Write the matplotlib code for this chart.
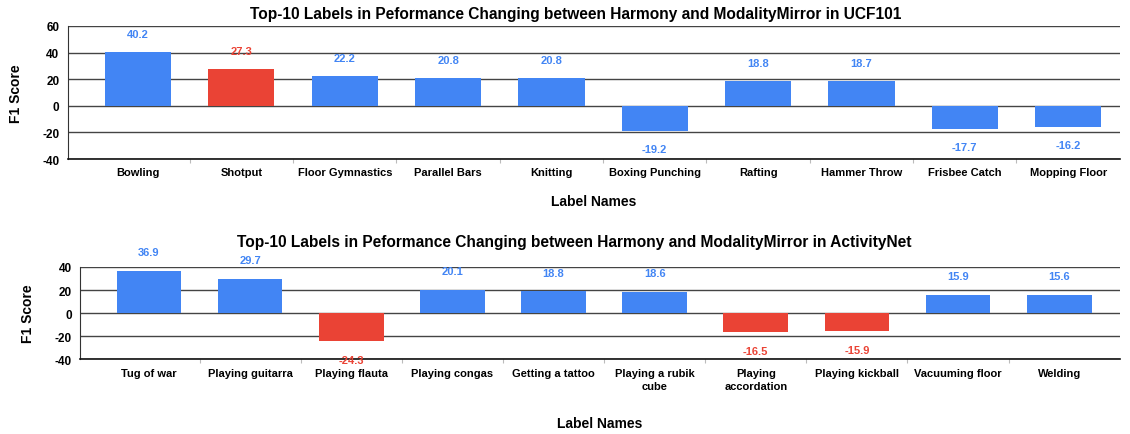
import matplotlib
matplotlib.use("Agg")
import matplotlib.pyplot as plt

ucf_labels = ["Bowling", "Shotput", "Floor Gymnastics", "Parallel Bars", "Knitting",
              "Boxing Punching", "Rafting", "Hammer Throw", "Frisbee Catch", "Mopping Floor"]
ucf_values = [40.2, 27.3, 22.2, 20.8, 20.8, -19.2, 18.8, 18.7, -17.7, -16.2]
ucf_colors = ["#4285F4", "#EA4335", "#4285F4", "#4285F4", "#4285F4",
              "#4285F4", "#4285F4", "#4285F4", "#4285F4", "#4285F4"]

anet_labels = ["Tug of war", "Playing guitarra", "Playing flauta", "Playing congas",
               "Getting a tattoo", "Playing a rubik\ncube", "Playing\naccordation",
               "Playing kickball", "Vacuuming floor", "Welding"]
anet_values = [36.9, 29.7, -24.3, 20.1, 18.8, 18.6, -16.5, -15.9, 15.9, 15.6]
anet_colors = ["#4285F4", "#4285F4", "#EA4335", "#4285F4", "#4285F4",
               "#4285F4", "#EA4335", "#EA4335", "#4285F4", "#4285F4"]

plt.rcParams['font.family'] = ['Liberation Sans', 'DejaVu Sans']

fig = plt.figure(figsize=(11.3, 4.35), dpi=100)

def draw(ax, labels, values, colors, ylim, yticks, title, offset_pt, xlim, title_pad, title_x):
    x = list(range(len(labels)))
    ax.bar(x, values, width=0.64, color=colors, zorder=3)
    ax.set_xlim(*xlim)
    ax.set_ylim(*ylim)
    ax.set_yticks(yticks)
    ax.set_yticklabels([str(t) for t in yticks], fontsize=8.5, fontweight='bold')
    ax.set_xticks(x)
    ax.set_xticklabels(labels, fontsize=8, fontweight='bold', linespacing=1.45)
    ax.set_xticks([i + 0.5 for i in range(len(labels) - 1)], minor=True)
    ax.tick_params(axis='both', which='major', length=0, pad=6)
    ax.tick_params(axis='x', which='minor', length=3, color='#bbbbbb', width=0.8)
    ax.grid(axis='y', color='#444444', linewidth=1.0, zorder=0)
    for s in ['top', 'right']:
        ax.spines[s].set_visible(False)
    ax.spines['left'].set_color('#333333')
    ax.spines['bottom'].set_color('#111111')
    ax.spines['bottom'].set_linewidth(1.2)
    ax.set_title(title, fontsize=11.2, fontweight='bold', pad=title_pad, x=title_x)
    ax.set_ylabel("F1 Score", fontsize=10, fontweight='bold', labelpad=14)
    for xi, v, c in zip(x, values, colors):
        off = offset_pt if v >= 0 else -offset_pt
        ax.annotate(f"{v}", (xi, v), xytext=(0, off), textcoords='offset points',
                    ha='center', va='center', fontsize=8, fontweight='bold',
                    color=c, zorder=4)

ax1 = fig.add_axes([0.060, 0.632, 0.931, 0.306])
draw(ax1, ucf_labels, ucf_values, ucf_colors, (-40, 60), [-40, -20, 0, 20, 40, 60],
     "Top-10 Labels in Peformance Changing between Harmony and ModalityMirror in UCF101",
     13, (-0.68, 9.5), 6, 0.483)
ax1.set_xlabel("Label Names", fontsize=10, fontweight='bold', labelpad=12)

ax2 = fig.add_axes([0.071, 0.172, 0.920, 0.212])
draw(ax2, anet_labels, anet_values, anet_colors, (-40, 40), [-40, -20, 0, 20, 40],
     "Top-10 Labels in Peformance Changing between Harmony and ModalityMirror in ActivityNet",
     13.5, (-0.68, 9.6), 15, 0.475)
ax2.set_xlabel("Label Names", fontsize=10, fontweight='bold', labelpad=18)

fig.savefig("out.png", dpi=100)
